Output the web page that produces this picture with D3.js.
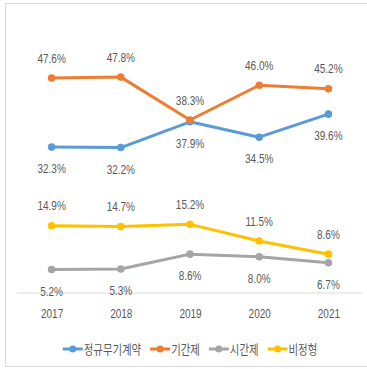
<!DOCTYPE html>
<html>
<head>
<meta charset="utf-8">
<script src="https://cdn.jsdelivr.net/npm/d3@7"></script>
<style>
  html, body { margin: 0; padding: 0; background: #fff; }
  svg { display: block; }
  text { fill: #595959; }
</style>
</head>
<body>
<div id="chart"></div>
<script>
// Employment type shares, 2017–2021 (%)
const years = ["2017", "2018", "2019", "2020", "2021"];
const permanentContract = [32.3, 32.2, 37.9, 34.5, 39.6]; // 정규무기계약
const fixedTerm = [47.6, 47.8, 38.3, 46.0, 45.2];        // 기간제
const partTime = [5.2, 5.3, 8.6, 8.0, 6.7];              // 시간제
const atypical = [14.9, 14.7, 15.2, 11.5, 8.6];          // 비정형
const seriesNames = ["정규무기계약", "기간제", "시간제", "비정형"];
const yDomain = [0, 60];

const series = [
  { name: seriesNames[0], values: permanentContract, color: "#5b9bd5", labelPos: "below" },
  { name: seriesNames[1], values: fixedTerm, color: "#ed7d31", labelPos: "above" },
  { name: seriesNames[2], values: partTime, color: "#a5a5a5", labelPos: "below" },
  { name: seriesNames[3], values: atypical, color: "#ffc000", labelPos: "above" }
];

const W = 367, H = 369;
const textScale = 0.8;

const svg = d3.select("#chart").append("svg")
  .attr("width", W).attr("height", H);

// chart frame
svg.append("rect")
  .attr("x", 5.5).attr("y", 3.5)
  .attr("width", W).attr("height", 363)
  .attr("fill", "#fff").attr("stroke", "#d9d9d9");

const x = d3.scalePoint().domain(years).range([17, 363]).padding(0.5);
const y = d3.scaleLinear().domain(yDomain).range([293, 22]);

// category axis
const xAxis = svg.append("g")
  .attr("transform", `translate(0,${y(0)})`)
  .call(d3.axisBottom(x).tickSize(0).tickPadding(0));
xAxis.select(".domain").attr("stroke", "#d9d9d9").attr("stroke-width", 1.2)
  .attr("d", "M17,0H362");
xAxis.selectAll(".tick text").remove();
xAxis.selectAll(".tick").append("text")
  .attr("transform", `translate(0,25) scale(${textScale},1)`)
  .attr("text-anchor", "middle")
  .attr("font-family", "Liberation Sans, Arial, sans-serif")
  .attr("font-size", 12.5)
  .style("fill", "#595959")
  .text(d => d);

const line = d3.line()
  .x((d, i) => x(years[i]))
  .y(d => y(d));

const g = svg.append("g");
series.forEach(s => {
  g.append("path")
    .datum(s.values)
    .attr("d", line)
    .attr("fill", "none")
    .attr("stroke", s.color)
    .attr("stroke-width", 3)
    .attr("stroke-linejoin", "round")
    .attr("stroke-linecap", "round");
  g.selectAll(null).data(s.values).enter().append("circle")
    .attr("cx", (d, i) => x(years[i]))
    .attr("cy", d => y(d))
    .attr("r", 3.8)
    .attr("fill", s.color);
});

// data labels
series.forEach(s => {
  g.selectAll(null).data(s.values).enter().append("text")
    .attr("transform", (d, i) => {
      const ty = s.labelPos === "above" ? y(d) - 15.5 : y(d) + 26;
      return `translate(${x(years[i])},${ty}) scale(${textScale},1)`;
    })
    .attr("text-anchor", "middle")
    .attr("font-family", "Liberation Sans, Arial, sans-serif")
    .attr("font-size", 12.5)
    .text(d => d.toFixed(1) + "%");
});

// legend
const legend = svg.append("g");
const items = legend.selectAll("g").data(series).enter().append("g");
items.append("line")
  .attr("x1", 0).attr("x2", 20).attr("y1", 0).attr("y2", 0)
  .attr("stroke", d => d.color).attr("stroke-width", 3);
items.append("circle")
  .attr("cx", 10).attr("cy", 0).attr("r", 3.5)
  .attr("fill", d => d.color);
items.append("text")
  .attr("transform", `translate(21,4.5) scale(${textScale},1)`)
  .attr("font-family", "Noto Sans CJK KR, sans-serif")
  .attr("font-size", 13)
  .text(d => d.name);

let cursor = 0;
const gap = 9;
items.each(function () {
  const t = d3.select(this).select("text").node();
  const w = 21 + t.getComputedTextLength() * textScale;
  d3.select(this).attr("transform", `translate(${cursor},0)`);
  cursor += w + gap;
});
const total = cursor - gap;
legend.attr("transform", `translate(${190 - total / 2},349)`);
</script>
</body>
</html>
